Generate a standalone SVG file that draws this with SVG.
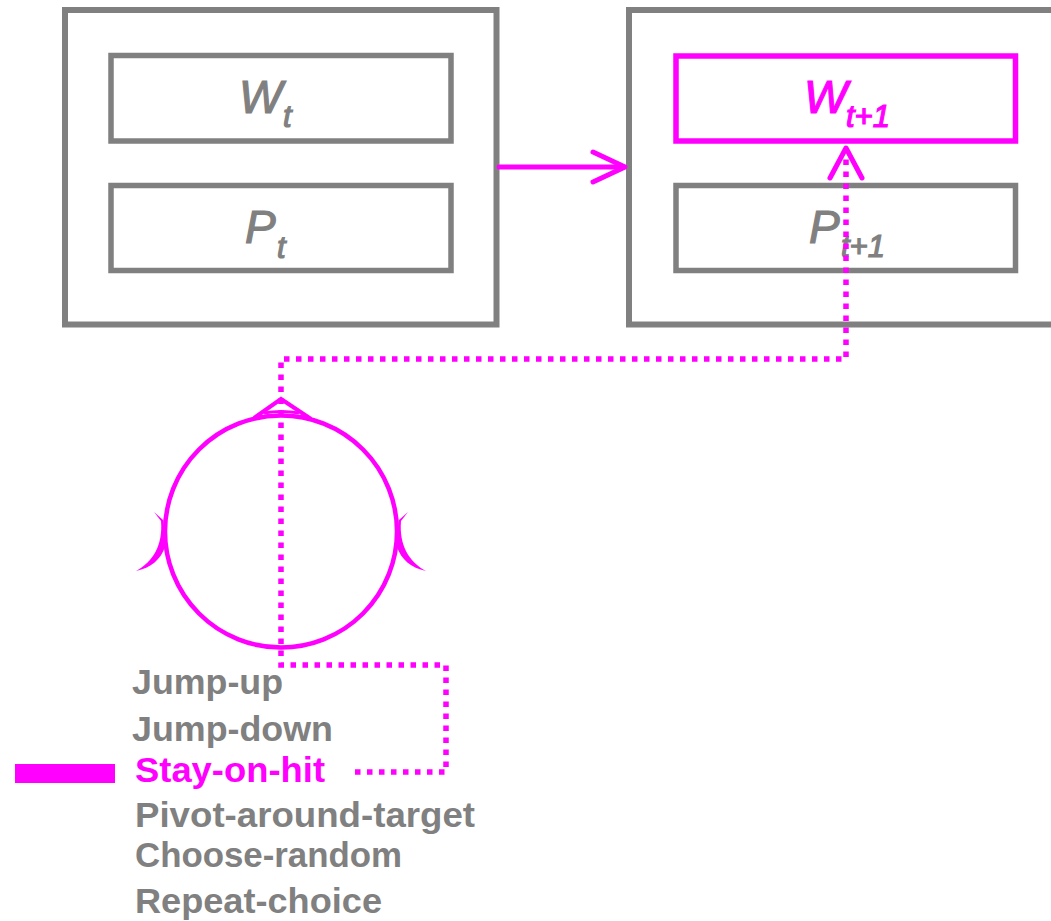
<svg xmlns="http://www.w3.org/2000/svg" width="1051" height="921" viewBox="0 0 1051 921">
<style>
.box{fill:none;stroke:#808080;stroke-width:6}
.ibox{fill:#fff;stroke:#808080;stroke-width:5.5}
.hbox{fill:#fff;stroke:#ff00ff;stroke-width:5.5}
.math{font-family:"Liberation Sans",Arial,sans-serif;font-style:italic;stroke-width:1.2}
.big{font-size:46px}
.sub{font-size:31px}
.g{fill:#808080;stroke:#808080}
.m{fill:#ff00ff;stroke:#ff00ff}
.lst{font-family:"Liberation Sans",Arial,sans-serif;font-weight:bold;font-size:35px;fill:#808080}
.solid{fill:none;stroke:#ff00ff;stroke-width:5;stroke-linecap:round;stroke-linejoin:round}
.dot{fill:none;stroke:#ff00ff;stroke-width:5.5;stroke-dasharray:5.5 6.5}
</style>
<rect width="1051" height="921" fill="#fff"/>
<g id="state-t">
<rect class="box" x="65" y="10" width="431.5" height="314.5"/>
<g id="Wt">
<rect class="ibox" x="111" y="55.5" width="340" height="85.5"/>
<text class="math big g" x="239" y="113">W</text><text class="math sub g" x="283" y="127">t</text>
</g>
<g id="Pt">
<rect class="ibox" x="111" y="185.5" width="340" height="85"/>
<text class="math big g" x="245" y="243">P</text><text class="math sub g" x="277" y="258">t</text>
</g>
</g>
<g id="state-t1">
<rect class="box" x="629" y="10" width="440" height="314.5"/>
<g id="Wt1">
<rect class="hbox" x="676" y="56" width="339.5" height="85"/>
<text class="math big m" x="804" y="113">W</text><text class="math sub m" x="846" y="127">t+1</text>
</g>
<g id="Pt1">
<rect class="ibox" x="676" y="185.5" width="339.5" height="85"/>
<text class="math big g" x="809" y="243">P</text><text class="math sub g" x="841" y="257">t+1</text>
</g>
</g>
<g id="cycle">
<circle cx="281" cy="531.5" r="116" fill="none" stroke="#ff00ff" stroke-width="4.5"/>
<path d="M254,418 L281,399 L311,419" fill="none" stroke="#ff00ff" stroke-width="4" stroke-linejoin="miter"/>
<path d="M264,413 Q281,410 299,413" fill="none" stroke="#ff00ff" stroke-width="3"/>
<path d="M154,512 L161,521 C163,545 153,562 136,571 C151,568 161,559 165,547 L163,520 Z" fill="#ff00ff"/>
<path d="M408,512 L401,521 C399,545 409,562 426,571 C411,568 401,559 397,547 L399,520 Z" fill="#ff00ff"/>
</g>
<g id="legend">
<rect x="15" y="764" width="100" height="19" fill="#ff00ff"/>
<text class="lst" x="132" y="694" textLength="151" lengthAdjust="spacingAndGlyphs">Jump-up</text>
<text class="lst" x="132" y="741" textLength="201" lengthAdjust="spacingAndGlyphs">Jump-down</text>
<text class="lst" x="135" y="782" textLength="190" lengthAdjust="spacingAndGlyphs" style="fill:#ff00ff">Stay-on-hit</text>
<text class="lst" x="135" y="827" textLength="340" lengthAdjust="spacingAndGlyphs">Pivot-around-target</text>
<text class="lst" x="135" y="867" textLength="267" lengthAdjust="spacingAndGlyphs">Choose-random</text>
<text class="lst" x="135" y="913" textLength="247" lengthAdjust="spacingAndGlyphs">Repeat-choice</text>
</g>
<g id="connectors">
<path class="solid" d="M499,167 H624"/>
<path class="solid" d="M593,152 L625,167 L593,182"/>
<path class="dot" d="M355,772 H446 V665 H281 V359 H846 V152"/>
<path class="solid" d="M830,178 L846,148 L862,178"/>
</g>
</svg>
